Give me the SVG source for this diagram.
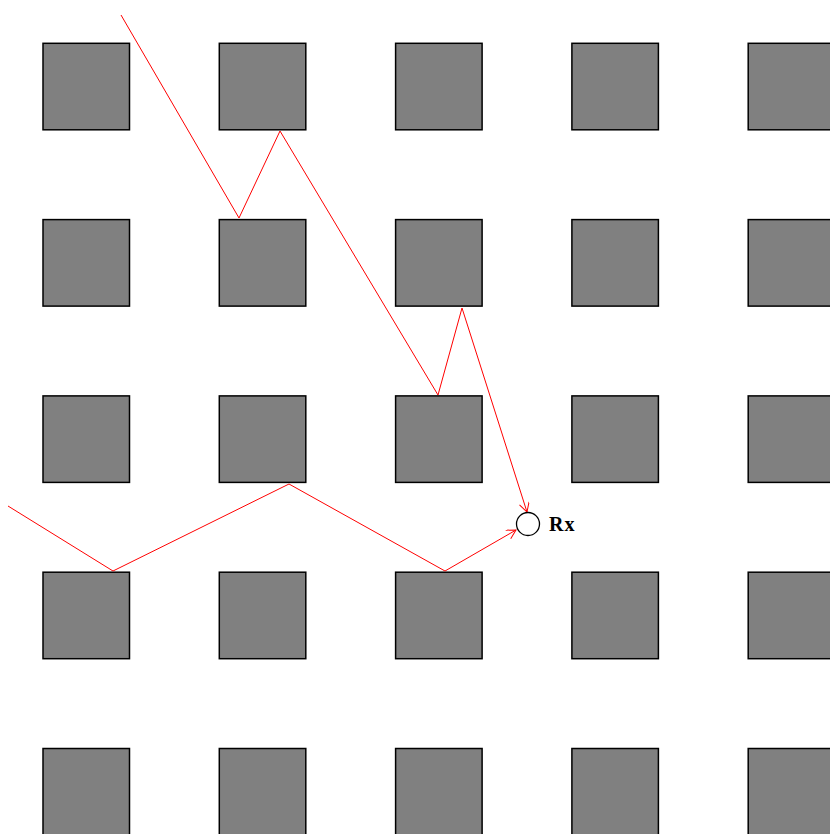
<svg xmlns="http://www.w3.org/2000/svg" width="830" height="834" viewBox="0 0 830 834">
<style>
.blk{fill:#808080;stroke:#000;stroke-width:1.5}
.ray{fill:none;stroke:#ff0000;stroke-width:1}
.lbl{font-family:"Liberation Serif",serif;font-weight:bold;font-size:20px;fill:#000;letter-spacing:1px}
</style>
<defs>
<marker id="arr" markerUnits="userSpaceOnUse" markerWidth="12" markerHeight="12" refX="10" refY="5" orient="auto">
<path d="M1,0 L10,5 L1,10" fill="none" stroke="#ff0000" stroke-width="1"/>
</marker>
<rect id="sq" width="86.5" height="86.5" class="blk"/>
</defs>
<rect width="830" height="834" fill="#fff"/>
<g id="grid">
<g id="r0"><use href="#sq" x="43" y="43.3"/><use href="#sq" x="219.3" y="43.3"/><use href="#sq" x="395.6" y="43.3"/><use href="#sq" x="571.9" y="43.3"/><use href="#sq" x="748.2" y="43.3"/></g>
<g id="r1"><use href="#sq" x="43" y="219.6"/><use href="#sq" x="219.3" y="219.6"/><use href="#sq" x="395.6" y="219.6"/><use href="#sq" x="571.9" y="219.6"/><use href="#sq" x="748.2" y="219.6"/></g>
<g id="r2"><use href="#sq" x="43" y="395.9"/><use href="#sq" x="219.3" y="395.9"/><use href="#sq" x="395.6" y="395.9"/><use href="#sq" x="571.9" y="395.9"/><use href="#sq" x="748.2" y="395.9"/></g>
<g id="r3"><use href="#sq" x="43" y="572.2"/><use href="#sq" x="219.3" y="572.2"/><use href="#sq" x="395.6" y="572.2"/><use href="#sq" x="571.9" y="572.2"/><use href="#sq" x="748.2" y="572.2"/></g>
<g id="r4"><use href="#sq" x="43" y="748.5"/><use href="#sq" x="219.3" y="748.5"/><use href="#sq" x="395.6" y="748.5"/><use href="#sq" x="571.9" y="748.5"/><use href="#sq" x="748.2" y="748.5"/></g>
</g>
<g id="connectors">
<polyline class="ray" points="121,15 239,218 280,131 438,395 462,308 527,512" marker-end="url(#arr)"/>
<polyline class="ray" points="8,506 113,571 289,484 445,571 516,530" marker-end="url(#arr)"/>
</g>
<g id="rx">
<circle cx="528" cy="524" r="11.5" fill="none" stroke="#000" stroke-width="1.3"/>
<text class="lbl" x="549" y="531">Rx</text>
</g>
</svg>
